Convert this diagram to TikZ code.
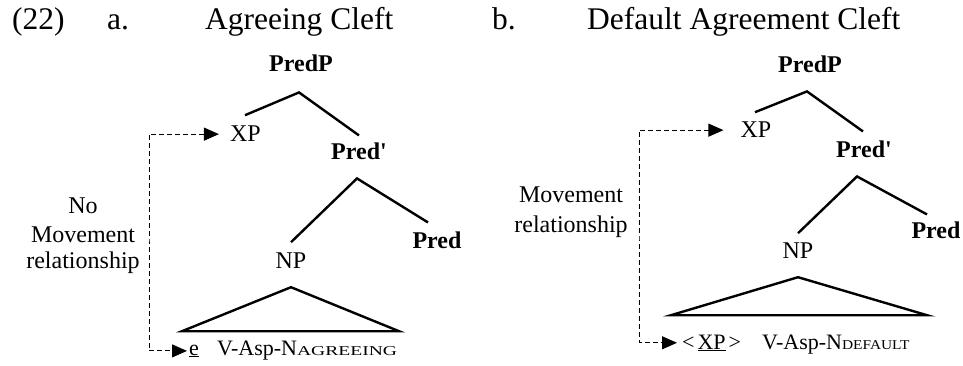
\documentclass[tikz,border=0pt]{standalone}
\usepackage{fontspec}
\usepackage{graphicx}
\setmainfont{Liberation Serif}
\usetikzlibrary{arrows.meta}
\newcommand\subsc[2]{\scalebox{#1}[1]{\fontsize{13.5}{14}\selectfont #2}}
\begin{document}
\begin{tikzpicture}[x=1pt,y=-1pt,
  title/.style={font=\fontsize{31.5}{36}\selectfont, anchor=base west, inner sep=0pt},
  cat/.style={font=\fontsize{24}{28}\selectfont, anchor=base, inner sep=0pt},
  catb/.style={font=\fontsize{24}{28}\selectfont\bfseries, anchor=base, inner sep=0pt},
  lbl/.style={font=\fontsize{24}{28}\selectfont, anchor=base, inner sep=0pt},
  leaf/.style={font=\fontsize{22}{26}\selectfont, anchor=base west, inner sep=0pt},
  branch/.style={line width=2.4pt, line join=miter},
  move/.style={line width=1pt, dash pattern=on 5pt off 3pt,
    arrows={Triangle[length=15pt,width=13pt]-Triangle[length=15pt,width=13pt]}}
]
\useasboundingbox (0,0) rectangle (963,366);

% titles
\node[title] (num) at (12,30) {(22)};
\node[title] (ta) at (107,30) {a.};
\node[title] (tA) at (205,30) {Agreeing Cleft};
\node[title] (tb) at (492,30) {b.};
\node[title] (tB) at (587,30) {Default Agreement Cleft};

% ---------- tree a ----------
\node[catb] (predpA) at (301,72) {PredP};
\node[cat]  (xpA)    at (245.5,142) {XP};
\node[catb] (prdbA)  at (359,160) {Pred\textquotesingle};
\node[cat]  (npA)    at (291,268) {NP};
\node[catb] (predA)  at (437,248) {Pred};
\node[leaf] (eA)     at (189,355) {\underline{e}};
\node[leaf] (vA)     at (217,355) {V-Asp-N\subsc{1.45}{AGREEING}};

\draw[branch] ([shift={(-0.5,-27)}]xpA.south) -- ([shift={(-2,20)}]predpA.south) -- ([shift={(0,-25)}]prdbA.south);
\draw[branch] ([shift={(0,-26)}]npA.south) -- ([shift={(-2,18)}]prdbA.south) -- ([shift={(-9,-26)}]predA.south);
\draw[branch] ([shift={(0,19)}]npA.south) -- ([shift={(-109,63)}]npA.south) -- ([shift={(108,63)}]npA.south) -- cycle;

\node[lbl] (noA)  at (83,213) {No};
\node[lbl] (mvA)  at (83,242) {Movement};
\node[lbl] (relA) at (83,268) {relationship};

\coordinate (cornA) at (149,240);
\draw[move, shorten <=11pt, shorten >=2pt] (xpA.west) -| (cornA) |- (eA.west);

% ---------- tree b ----------
\node[catb] (predpB) at (810,73) {PredP};
\node[cat]  (xpB)    at (756,138) {XP};
\node[catb] (prdbB)  at (864,158) {Pred\textquotesingle};
\node[cat]  (npB)    at (798,258) {NP};
\node[catb] (predB)  at (936,238) {Pred};
\node[leaf] (ltB)    at (682,349) {<\kern3pt\underline{XP}\kern3pt>};
\node[leaf] (vB)     at (762,349) {V-Asp-N\subsc{1.14}{DEFAULT}};

\draw[branch] ([shift={(-1,-26)}]xpB.south) -- ([shift={(-3,18)}]predpB.south) -- ([shift={(-1,-27)}]prdbB.south);
\draw[branch] ([shift={(0,-25)}]npB.south) -- ([shift={(-7,18)}]prdbB.south) -- ([shift={(-9,-24)}]predB.south);
\draw[branch] ([shift={(0,19)}]npB.south) -- ([shift={(-127,57)}]npB.south) -- ([shift={(129,57)}]npB.south) -- cycle;

\node[lbl] (mvB)  at (571,203) {Movement};
\node[lbl] (relB) at (571,232) {relationship};

\coordinate (cornB) at (639,240);
\draw[move, shorten <=17pt, shorten >=5pt] (xpB.west) -| (cornB) |- (ltB.west);
\end{tikzpicture}
\end{document}
